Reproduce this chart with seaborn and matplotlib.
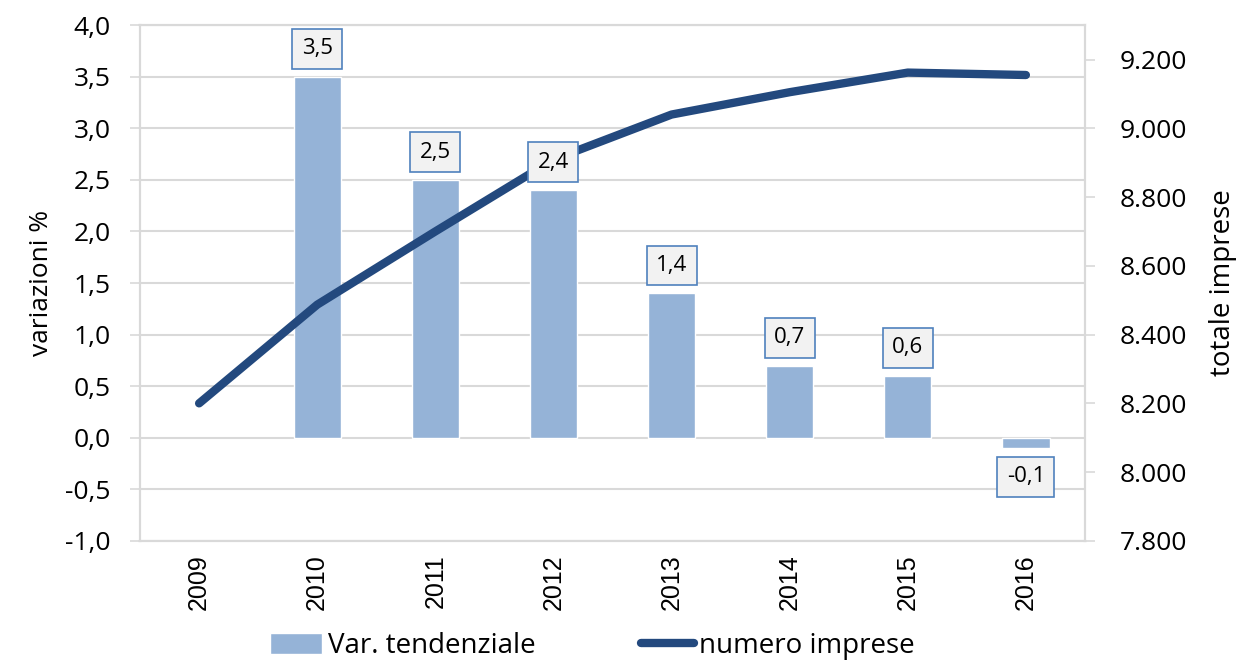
import seaborn as sns
import pandas as pd
import matplotlib.pyplot as plt
from matplotlib.ticker import FuncFormatter, MultipleLocator

years = ["2009", "2010", "2011", "2012", "2013", "2014", "2015", "2016"]
var_tend = [None, 3.5, 2.5, 2.4, 1.4, 0.7, 0.6, -0.1]
num_imprese = [8200, 8487, 8700, 8909, 9040, 9105, 9162, 9155]

df = pd.DataFrame({"anno": years, "var": var_tend, "imprese": num_imprese})
df["pos"] = range(len(df))

sns.set_style("white")
plt.rcParams['font.family'] = ['Open Sans', 'DejaVu Sans']
plt.rcParams['text.color'] = 'black'
plt.rcParams['axes.labelcolor'] = 'black'

bar_col = "#95B3D7"
line_col = "#23497E"
grid_col = "#D9D9D9"

fig = plt.figure(figsize=(12.55, 6.62), dpi=100)
ax = fig.add_axes([0.1116, 0.183, 0.7529, 0.779])

sns.barplot(data=df, x="pos", y="var", color=bar_col, width=0.4,
            saturation=1, ax=ax, native_scale=True, label="Var. tendenziale")
ax.set_xlim(-0.5, len(years) - 0.5)
ax.set_ylim(-1, 4)
ax.yaxis.set_major_locator(MultipleLocator(0.5))
ax.yaxis.set_major_formatter(FuncFormatter(lambda v, p: f"{v:.1f}".replace(".", ",")))
ax.set_xticks(df["pos"])
ax.set_xticklabels(years, rotation=90, fontsize=18, family="Liberation Sans")
ax.tick_params(axis="y", labelsize=19, length=7, color=grid_col, width=1.2, pad=14,
               labelcolor="black")
ax.tick_params(axis="x", length=0, pad=10, labelcolor="black")
ax.grid(axis="y", color=grid_col, linewidth=1.5)
ax.set_axisbelow(True)
ax.set_xlabel("")
ax.set_ylabel("variazioni %", fontsize=19, labelpad=8)
for s in ax.spines.values():
    s.set_color(grid_col)
    s.set_linewidth(1.5)

ax2 = ax.twinx()
sns.lineplot(data=df, x="pos", y="imprese", color=line_col, linewidth=6,
             solid_capstyle="round", ax=ax2, label="numero imprese")
ax2.set_ylim(7800, 9300)
ax2.set_yticks(range(7800, 9201, 200))
ax2.yaxis.set_major_formatter(FuncFormatter(lambda v, p: f"{int(v):,}".replace(",", ".")))
ax2.tick_params(axis="y", labelsize=19, length=7, color=grid_col, width=1.2, pad=18,
                labelcolor="black")
ax2.set_ylabel("totale imprese", fontsize=20, labelpad=16)
for s in ax2.spines.values():
    s.set_color(grid_col)
    s.set_linewidth(1.5)
ax2.set_xlim(-0.5, len(years) - 0.5)

# etichette dati
for i, v in enumerate(var_tend):
    if v is None:
        continue
    y = v + 0.27 if v >= 0 else v - 0.28
    ax2.text(i, y, f"{v:.1f}".replace(".", ","), transform=ax.transData,
             ha="center", va="center", fontsize=16, zorder=10,
             bbox=dict(boxstyle="square,pad=0.42", fc="#F2F2F2", ec="#4F81BD", lw=1.2))

# legenda
h1, l1 = ax.get_legend_handles_labels()
h2, l2 = ax2.get_legend_handles_labels()
if ax2.get_legend():
    ax2.get_legend().remove()
if ax.get_legend():
    ax.get_legend().remove()
fig.legend(h1 + h2, l1 + l2, loc="center", bbox_to_anchor=(0.472, 0.024), ncol=2,
           frameon=False, fontsize=20, handlelength=1.9, handleheight=0.8,
           handletextpad=0.2, columnspacing=3.8)

fig.savefig("out.png", dpi=100)
